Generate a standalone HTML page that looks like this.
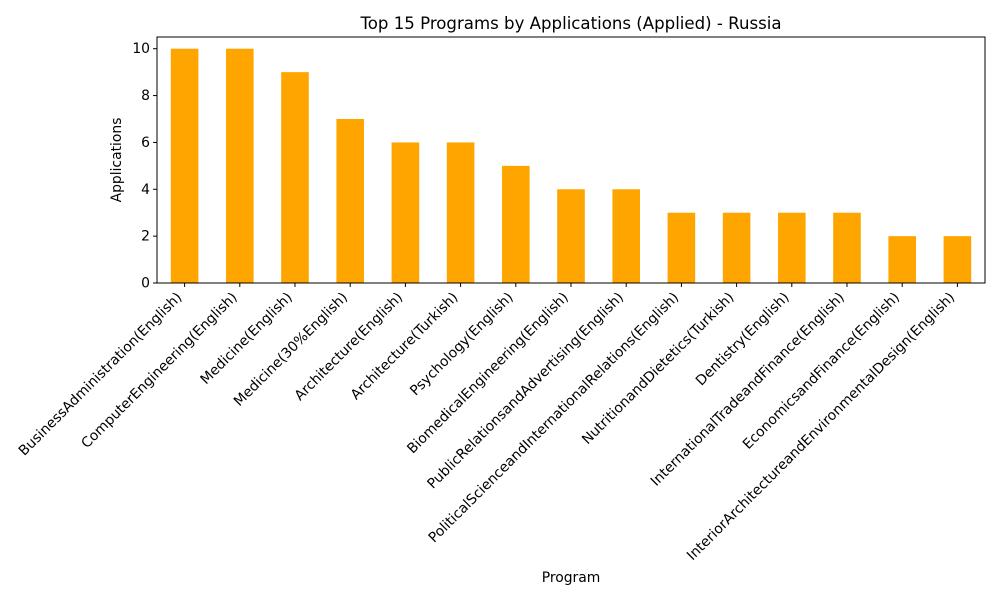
<!DOCTYPE html>
<html><head><meta charset="utf-8"><style>
body{margin:0;background:#fff;font-family:"DejaVu Sans",sans-serif}
</style></head><body>
<svg id="chart" width="1000" height="600" xmlns="http://www.w3.org/2000/svg" font-family="DejaVu Sans, sans-serif">
<text x="571" y="29" font-size="16.6" text-anchor="middle">Top 15 Programs by Applications (Applied) - Russia</text>
<g id="bars"></g>
<g id="yticks"></g>
<g id="xticks"></g>
<rect x="157" y="37" width="828" height="246" fill="none" stroke="#000" stroke-width="1"/>
<text transform="translate(121,160) rotate(-90)" font-size="13.9" text-anchor="middle">Applications</text>
<text x="571" y="582" font-size="13.9" text-anchor="middle">Program</text>
</svg>
<script>
const categories=["BusinessAdministration(English)","ComputerEngineering(English)","Medicine(English)","Medicine(30%English)","Architecture(English)","Architecture(Turkish)","Psychology(English)","BiomedicalEngineering(English)","PublicRelationsandAdvertising(English)","PoliticalScienceandInternationalRelations(English)","NutritionandDietetics(Turkish)","Dentistry(English)","InternationalTradeandFinance(English)","EconomicsandFinance(English)","InteriorArchitectureandEnvironmentalDesign(English)"];
const values=[10,10,9,7,6,6,5,4,4,3,3,3,3,2,2];
const yTicks=[0,2,4,6,8,10];
const NS="http://www.w3.org/2000/svg";
const L=157,R=985,T=37,B=283,yMax=10.5;
const slot=(R-L)/categories.length;
const xC=i=>L+slot*(i+0.5);
const y=v=>B-(B-T)*v/yMax;
const bars=document.getElementById('bars'),yt=document.getElementById('yticks'),xt=document.getElementById('xticks');
values.forEach((v,i)=>{
 const r=document.createElementNS(NS,'rect');
 r.setAttribute('x',xC(i)-slot/4);r.setAttribute('width',slot/2);
 r.setAttribute('y',y(v));r.setAttribute('height',B-y(v));r.setAttribute('fill','#ffa500');
 
 
 bars.appendChild(r);
});
yTicks.forEach(t=>{
 const l=document.createElementNS(NS,'line');
 l.setAttribute('x1',L-4);l.setAttribute('x2',L);l.setAttribute('y1',y(t));l.setAttribute('y2',y(t));l.setAttribute('stroke','#000');
 
 
 yt.appendChild(l);
 const s=document.createElementNS(NS,'text');
 s.setAttribute('x',L-7);s.setAttribute('y',y(t)+4.5);s.setAttribute('font-size','13.9');s.setAttribute('text-anchor','end');
 s.textContent=t;
 
 
 yt.appendChild(s);
});
categories.forEach((c,i)=>{
 const l=document.createElementNS(NS,'line');
 l.setAttribute('x1',xC(i));l.setAttribute('x2',xC(i));l.setAttribute('y1',B);l.setAttribute('y2',B+4);l.setAttribute('stroke','#000');
 
 
 xt.appendChild(l);
 const s=document.createElementNS(NS,'text');
 s.setAttribute('transform',`translate(${xC(i)-2},${B+15}) rotate(-45)`);
 s.setAttribute('font-size','13.9');s.setAttribute('text-anchor','end');
 s.textContent=c;
 
 
 xt.appendChild(s);
});
</script>
</body></html>
